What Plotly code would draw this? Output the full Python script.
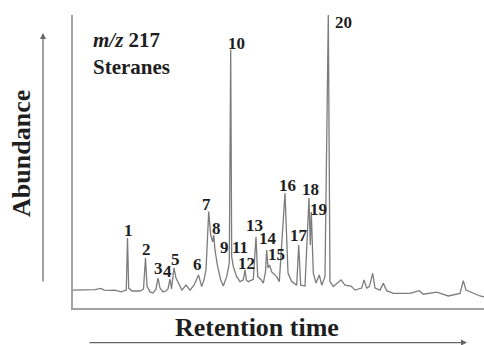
import plotly.graph_objects as go

# m/z 217 mass chromatogram (steranes): retention time (min) vs relative abundance (%)
rt = [20.0, 21.2, 22.2, 22.8, 23.1, 23.7, 24.2, 24.8, 25.1, 25.33,
      25.45, 25.57, 25.9, 26.7, 27.05, 27.25, 27.4, 27.7, 28.0, 28.3,
      28.5, 28.7, 29.0, 29.3, 29.5, 29.7, 29.85, 30.1, 30.3, 30.6,
      30.9, 31.3, 31.7, 32.1, 32.55, 32.87, 33.1, 33.3, 33.57, 33.77,
      33.97, 34.07, 34.2, 34.43, 34.77, 35.03, 35.37, 35.63, 35.77, 35.87,
      36.03, 36.37, 36.7, 37.03, 37.2, 37.33, 37.53, 38.03, 38.3, 38.47,
      38.77, 39.03, 39.25, 39.37, 39.5, 39.65, 39.87, 40.37, 40.63, 41.2,
      41.5, 41.87, 42.37, 42.57, 42.77, 43.2, 43.6, 43.73, 43.83, 44.03,
      44.3, 44.63, 44.87, 45.2, 45.53, 45.7, 46.03, 46.8, 47.2, 47.8,
      48.2, 48.87, 49.1, 49.37, 49.63, 49.97, 50.2, 50.7, 51.03, 51.37,
      52.03, 53.7, 54.63, 55.03, 56.37, 57.53, 58.7, 59.03, 59.3, 60.7,
      61.1]
abundance = [6.1, 6.1, 6.3, 6.7, 6.1, 6.0, 6.1, 5.5, 5.8, 6.1,
             23.9, 6.8, 5.8, 5.8, 6.5, 17.1, 7.5, 5.5, 5.1, 6.5,
             10.2, 6.8, 5.5, 5.8, 6.5, 9.9, 6.5, 13.7, 10.2, 8.2,
             6.1, 7.8, 6.1, 7.8, 11.3, 7.3, 9.6, 13.0, 32.9, 24.9,
             22.6, 24.9, 19.8, 14.7, 9.6, 7.5, 10.7, 15.4, 88.1, 17.5,
             14.1, 10.7, 9.0, 9.6, 13.0, 9.6, 9.0, 9.8, 24.3, 10.7,
             9.8, 8.5, 12.3, 19.8, 13.7, 14.7, 12.3, 10.7, 9.0, 39.2,
             11.9, 9.0, 7.8, 21.5, 7.8, 7.5, 37.5, 21.5, 32.8, 11.9,
             8.5, 11.3, 7.8, 10.7, 100.0, 9.0, 7.3, 9.6, 7.8, 7.5,
             6.1, 6.8, 9.6, 6.8, 7.3, 11.8, 6.8, 6.1, 8.4, 5.9,
             5.0, 5.0, 5.9, 4.7, 5.4, 4.1, 5.0, 9.3, 6.1, 4.1,
             3.8]

# Peak numbers and the point of the trace each one identifies
peak_labels = [str(i) for i in range(1, 21)]
peak_points = [10, 15, 20, 25, 27, 34, 38, 41, 46, 48,
               51, 54, 58, 63, 65, 69, 73, 76, 78, 84]

# Pixel offsets of each number from its peak apex (x right, y up)
label_dx = [1, 0.5, 0, -2.3, 1.7, -0.8, -2, 2.3, -2.7, 5.3,
            3.3, 1, -1.5, 1.2, 7.0, 2, 0.6, 1, 7, 15]
label_dy = [7.3, 8, 9.7, 7.3, 8.7, 10, 6.7, 6.7, 29, 6.7,
            29, 6, 11.2, 11.3, 10.2, 8, 10, 8.7, 2, -7.7]

SERIF = "Liberation Serif, Times New Roman, serif"
TEXT = "#1e1e1e"
TRACE = "#7c7c7c"
AXIS = "#a2a2a2"

fig = go.Figure()
fig.add_trace(go.Scatter(
    x=rt, y=abundance, mode="lines",
    line=dict(color=TRACE, width=1.3),
    hoverinfo="skip", showlegend=False,
))

annotations = []
for lab, idx, dx, dy in zip(peak_labels, peak_points, label_dx, label_dy):
    annotations.append(dict(
        x=rt[idx], y=abundance[idx], xref="x", yref="y",
        text=f"<b>{lab}</b>", showarrow=False,
        xanchor="center", yanchor="middle",
        xshift=dx, yshift=dy,
        font=dict(family=SERIF, size=17, color=TEXT),
    ))

# Ion and compound class
annotations.append(dict(
    x=0.044, y=0.962, xref="paper", yref="paper",
    text="<b><i>m/z</i> 217</b><br><b>Steranes</b>",
    showarrow=False, xanchor="left", yanchor="top", align="left",
    font=dict(family=SERIF, size=21, color=TEXT),
))

# Axis titles with their direction arrows
annotations.append(dict(
    x=-0.124, y=0.526, xref="paper", yref="paper",
    text="<b>Abundance</b>", textangle=-90, showarrow=False,
    xanchor="center", yanchor="middle",
    font=dict(family=SERIF, size=26, color=TEXT),
))
annotations.append(dict(
    x=0.448, y=-0.068, xref="paper", yref="paper",
    text="<b>Retention time</b>", showarrow=False,
    xanchor="center", yanchor="middle",
    font=dict(family=SERIF, size=26, color=TEXT),
))
annotations.append(dict(
    x=-0.073, y=0.9386, xref="paper", yref="paper", text="",
    showarrow=True, ax=0, ay=250, arrowhead=2, arrowsize=1,
    arrowwidth=1.2, arrowcolor="#666666",
))
annotations.append(dict(
    x=0.9586, y=-0.118, xref="paper", yref="paper", text="",
    showarrow=True, ax=-379, ay=0, arrowhead=2, arrowsize=1,
    arrowwidth=1.2, arrowcolor="#666666",
))

fig.update_layout(
    width=484, height=345,
    margin=dict(l=73, r=0, t=15, b=37),
    paper_bgcolor="white", plot_bgcolor="white",
    xaxis=dict(range=[20, 61.1], showgrid=False, zeroline=False,
               showticklabels=False, ticks="", showline=True,
               linecolor=AXIS, linewidth=1.5),
    yaxis=dict(range=[0, 100], showgrid=False, zeroline=False,
               showticklabels=False, ticks="", showline=True,
               linecolor=AXIS, linewidth=1.5),
    annotations=annotations,
    showlegend=False,
)

fig.write_html("out.html", config={"displayModeBar": False})
